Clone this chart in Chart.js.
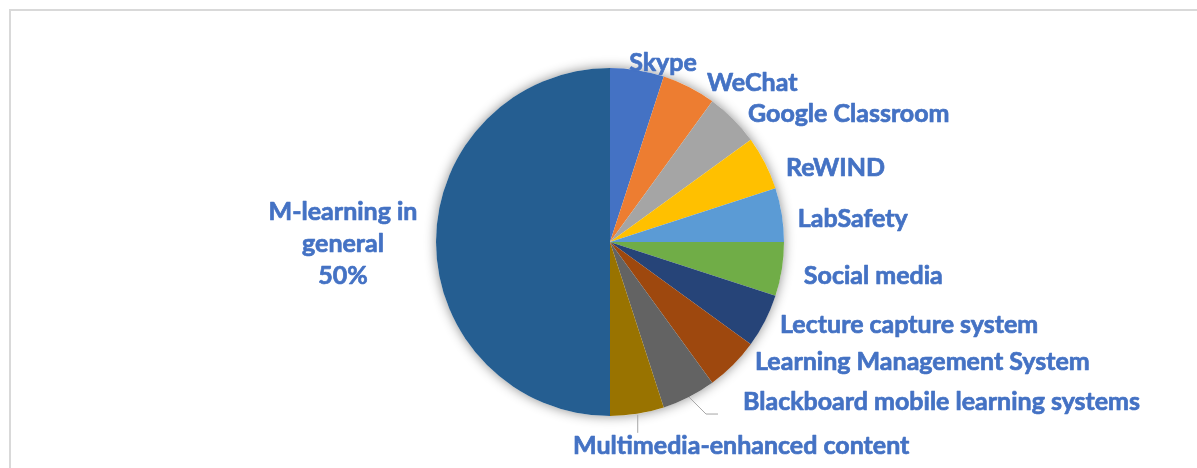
<!DOCTYPE html>
<html><head><meta charset="utf-8">
<script src="https://cdn.jsdelivr.net/npm/chart.js@4"></script>
<style>
html,body{margin:0;padding:0;background:#fff;overflow:hidden;}
#wrap{position:relative;width:1197px;height:468px;overflow:hidden;}
#frame{position:absolute;left:9px;top:9px;width:1200px;height:470px;border-top:2px solid #d9d9d9;border-left:2px solid #d9d9d9;}
canvas{position:absolute;left:0;top:0;}
</style></head><body>
<div id="wrap"><div id="frame"></div><canvas id="c" width="1197" height="468"></canvas></div>
<script>
// ---- data ----
const categories = ['Skype','WeChat','Google Classroom','ReWIND','LabSafety','Social media','Lecture capture system','Learning Management System','Blackboard mobile learning systems','Multimedia-enhanced content','M-learning in general'];
const values = [5,5,5,5,5,5,5,5,5,5,50];
const showPercent = [false,false,false,false,false,false,false,false,false,false,true];

// ---- style ----
const colors = ['#4472C4','#ED7D31','#A5A5A5','#FFC000','#5B9BD5','#70AD47','#264478','#9E480E','#636363','#997300','#255E91'];
const labelColor = '#4472C4';
const FONT = 'bold 25px Lato';
const LINE_H = 32;
// label placement relative to arc edge point at mid angle: [align, dx, dy]
const labelPlace = [
  ['left',-8,-7],['left',18,-4],['left',15,-5],['left',21,5],['left',16,4],['left',22,7],
  ['left',15,4],['left',22,-3],['left',54,5],['center',104,32],['center',-93,2]
];
// label wrapping (Excel wraps long text)
const wrapAt = [null,null,null,null,null,null,null,null,null,null,['M-learning in','general']];
const total = values.reduce((a,b)=>a+b,0);

const labelPlugin = {
  id:'labels',
  beforeDatasetsDraw(chart){
    const a = chart.getDatasetMeta(0).data[0];
    if(!a) return;
    const {x,y,outerRadius} = a.getProps(['x','y','outerRadius'],true);
    const ctx = chart.ctx;
    ctx.save();
    ctx.shadowColor='rgba(0,0,0,0.45)';
    ctx.shadowBlur=12;
    ctx.fillStyle='#fff';
    ctx.beginPath();ctx.arc(x,y,outerRadius,0,Math.PI*2);ctx.fill();
    ctx.restore();
  },
  afterDatasetsDraw(chart){
    const ctx = chart.ctx;
    const meta = chart.getDatasetMeta(0);
    meta.data.forEach((arc,i)=>{
      const {x,y,startAngle,endAngle,outerRadius} = arc.getProps(['x','y','startAngle','endAngle','outerRadius'],true);
      const mid=(startAngle+endAngle)/2;
      const px = x+Math.cos(mid)*outerRadius, py = y+Math.sin(mid)*outerRadius;
      let lines = wrapAt[i] ? wrapAt[i].slice() : [categories[i]];
      if(showPercent[i]) lines.push(Math.round(values[i]/total*100)+'%');
      const [align,dx,dy]=labelPlace[i];
      ctx.save();
      ctx.font=FONT; ctx.fillStyle=labelColor; ctx.strokeStyle=labelColor; ctx.lineWidth=0.7; ctx.lineJoin='round';
      ctx.textAlign=align; ctx.textBaseline='middle';
      const n=lines.length;
      lines.forEach((t,k)=>{
        const ty = py+dy+(k-(n-1)/2)*LINE_H;
        ctx.fillText(t, px+dx, ty);
        ctx.strokeText(t, px+dx, ty);
      });
      ctx.restore();
      // leader lines
      ctx.save();
      ctx.strokeStyle='#A6A6A6';ctx.lineWidth=1;
      if(i===8){
        ctx.beginPath();ctx.moveTo(px,py);ctx.lineTo(px+17,py+17);ctx.lineTo(px+29,py+17);ctx.stroke();
      } else if(i===9){
        ctx.beginPath();ctx.moveTo(px+0.5,py+1);ctx.lineTo(px+0.5,py+19);ctx.stroke();
      }
      ctx.restore();
    });
  }
};

new Chart(document.getElementById('c'),{
  type:'pie',
  data:{labels:categories,datasets:[{data:values,backgroundColor:colors,borderWidth:0,hoverOffset:0,offset:0}]},
  options:{
    responsive:false,animation:false,events:[],
    layout:{padding:{left:436,right:413,top:68,bottom:52}},
    plugins:{legend:{display:false},tooltip:{enabled:false}}
  },
  plugins:[labelPlugin]
});
</script>
</body></html>
